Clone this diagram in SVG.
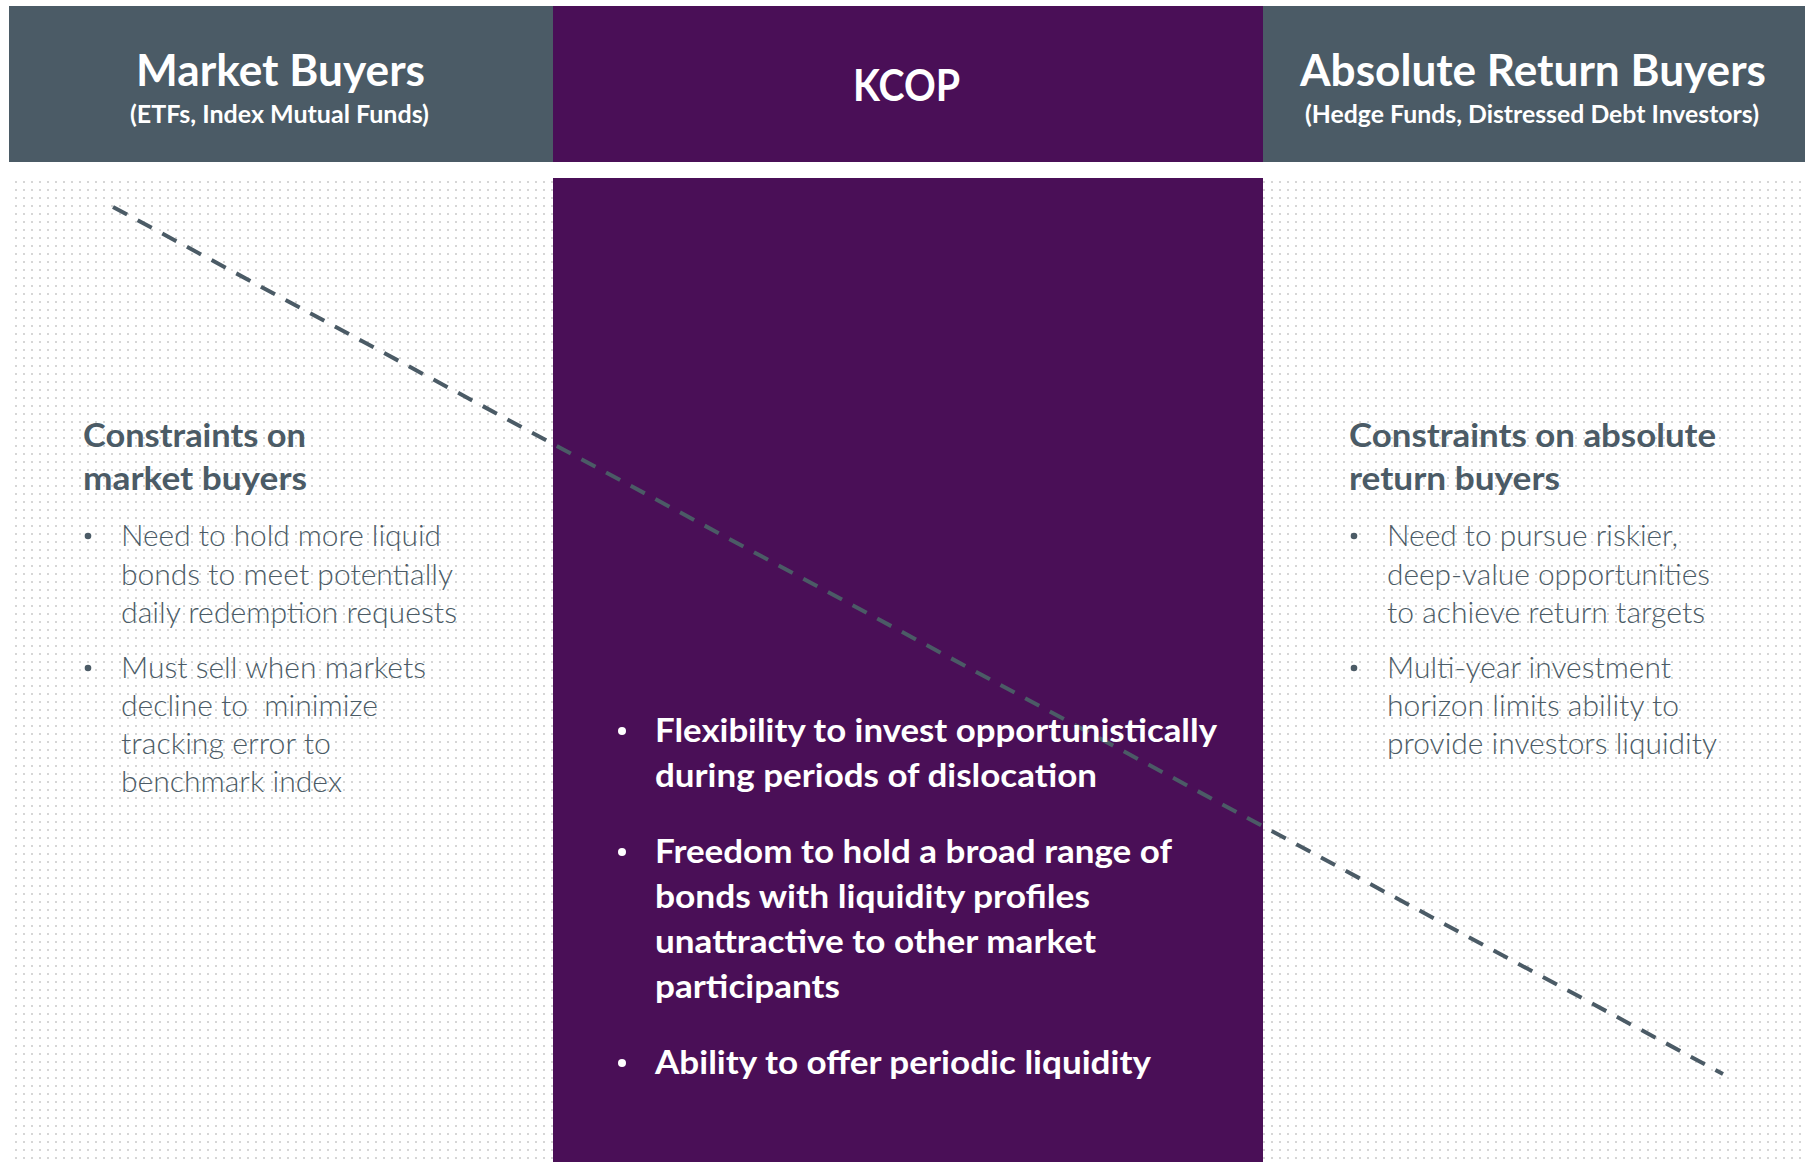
<svg xmlns="http://www.w3.org/2000/svg" width="1805" height="1162" viewBox="0 0 1805 1162">
  <defs>
    <pattern id="dots" patternUnits="userSpaceOnUse" x="12" y="178" width="8" height="8">
      <rect x="3" y="3" width="2" height="2" fill="#d6d6d6"/>
    </pattern>
    <style>
      .hdr { fill: #4b5b66; }
      .kcop { fill: #4a0f57; }
      .title { font-family: Lato, "Open Sans", sans-serif; font-weight: 700; font-size: 44px; fill: #ffffff; }
      .sub { font-family: Lato, "Open Sans", sans-serif; font-weight: 700; font-size: 24px; fill: #ffffff; }
      .head { font-family: Lato, "Open Sans", sans-serif; font-weight: 700; font-size: 33px; fill: #4b5b66; }
      .body { font-family: Lato, "Open Sans", sans-serif; font-weight: 300; font-size: 29px; fill: #4b5b66; }
      .ben { font-family: Lato, "Open Sans", sans-serif; font-weight: 700; font-size: 33px; fill: #ffffff; }
      .dotg { fill: #4b5b66; }
      .dotw { fill: #ffffff; }
      .conn { fill: none; stroke: #4b5b66; stroke-width: 4; stroke-dasharray: 16 12; }
    </style>
  </defs>

  <rect x="0" y="0" width="1805" height="1162" fill="#ffffff"/>
  <rect id="dotted-bg" x="9" y="178" width="1796" height="984" fill="url(#dots)"/>

  <g id="market-buyers-header">
    <rect class="hdr" x="9" y="6" width="544" height="156"/>
    <text class="title" x="136" y="86" textLength="289" lengthAdjust="spacingAndGlyphs">Market Buyers</text>
    <text class="sub" x="130" y="123" textLength="299" lengthAdjust="spacingAndGlyphs">(ETFs, Index Mutual Funds)</text>
  </g>

  <g id="kcop-header">
    <rect class="kcop" x="553" y="6" width="710" height="156"/>
    <text class="title" x="853" y="101" textLength="107" lengthAdjust="spacingAndGlyphs">KCOP</text>
  </g>

  <g id="absolute-return-header">
    <rect class="hdr" x="1263" y="6" width="542" height="156"/>
    <text class="title" x="1300" y="86" textLength="466" lengthAdjust="spacingAndGlyphs">Absolute Return Buyers</text>
    <text class="sub" x="1305" y="123" textLength="454" lengthAdjust="spacingAndGlyphs">(Hedge Funds, Distressed Debt Investors)</text>
  </g>

  <g id="kcop-body">
    <rect class="kcop" x="553" y="178" width="710" height="984"/>
  </g>

  <g id="connectors">
    <line class="conn" x1="113" y1="207" x2="1723" y2="1074"/>
  </g>

  <g id="market-buyers-constraints">
    <text class="head" x="83" y="447" textLength="223" lengthAdjust="spacingAndGlyphs">Constraints on</text>
    <text class="head" x="83" y="490" textLength="224" lengthAdjust="spacingAndGlyphs">market buyers</text>
    <circle class="dotg" cx="88" cy="536" r="3.3"/>
    <text class="body" x="121" y="546" textLength="320" lengthAdjust="spacingAndGlyphs">Need to hold more liquid</text>
    <text class="body" x="121" y="585" textLength="332" lengthAdjust="spacingAndGlyphs">bonds to meet potentially</text>
    <text class="body" x="121" y="623" textLength="336" lengthAdjust="spacingAndGlyphs">daily redemption requests</text>
    <circle class="dotg" cx="88" cy="668" r="3.3"/>
    <text class="body" x="121" y="678" textLength="305" lengthAdjust="spacingAndGlyphs">Must sell when markets</text>
    <text class="body" x="121" y="716" textLength="257" lengthAdjust="spacingAndGlyphs">decline to&#160; minimize</text>
    <text class="body" x="121" y="754" textLength="210" lengthAdjust="spacingAndGlyphs">tracking error to</text>
    <text class="body" x="121" y="792" textLength="221" lengthAdjust="spacingAndGlyphs">benchmark index</text>
  </g>

  <g id="absolute-return-constraints">
    <text class="head" x="1349" y="447" textLength="367" lengthAdjust="spacingAndGlyphs">Constraints on absolute</text>
    <text class="head" x="1349" y="490" textLength="211" lengthAdjust="spacingAndGlyphs">return buyers</text>
    <circle class="dotg" cx="1354" cy="536" r="3.3"/>
    <text class="body" x="1387" y="546" textLength="291" lengthAdjust="spacingAndGlyphs">Need to pursue riskier,</text>
    <text class="body" x="1387" y="585" textLength="323" lengthAdjust="spacingAndGlyphs">deep-value opportunities</text>
    <text class="body" x="1387" y="623" textLength="318" lengthAdjust="spacingAndGlyphs">to achieve return targets</text>
    <circle class="dotg" cx="1354" cy="668" r="3.3"/>
    <text class="body" x="1387" y="678" textLength="284" lengthAdjust="spacingAndGlyphs">Multi-year investment</text>
    <text class="body" x="1387" y="716" textLength="292" lengthAdjust="spacingAndGlyphs">horizon limits ability to</text>
    <text class="body" x="1387" y="754" textLength="330" lengthAdjust="spacingAndGlyphs">provide investors liquidity</text>
  </g>

  <g id="kcop-benefits">
    <circle class="dotw" cx="622" cy="731" r="4"/>
    <text class="ben" x="655" y="742" textLength="562" lengthAdjust="spacingAndGlyphs">Flexibility to invest opportunistically</text>
    <text class="ben" x="655" y="787" textLength="442" lengthAdjust="spacingAndGlyphs">during periods of dislocation</text>
    <circle class="dotw" cx="622" cy="852" r="4"/>
    <text class="ben" x="655" y="863" textLength="517" lengthAdjust="spacingAndGlyphs">Freedom to hold a broad range of</text>
    <text class="ben" x="655" y="908" textLength="435" lengthAdjust="spacingAndGlyphs">bonds with liquidity profiles</text>
    <text class="ben" x="655" y="953" textLength="441" lengthAdjust="spacingAndGlyphs">unattractive to other market</text>
    <text class="ben" x="655" y="998" textLength="185" lengthAdjust="spacingAndGlyphs">participants</text>
    <circle class="dotw" cx="622" cy="1063" r="4"/>
    <text class="ben" x="655" y="1074" textLength="496" lengthAdjust="spacingAndGlyphs">Ability to offer periodic liquidity</text>
  </g>
</svg>
